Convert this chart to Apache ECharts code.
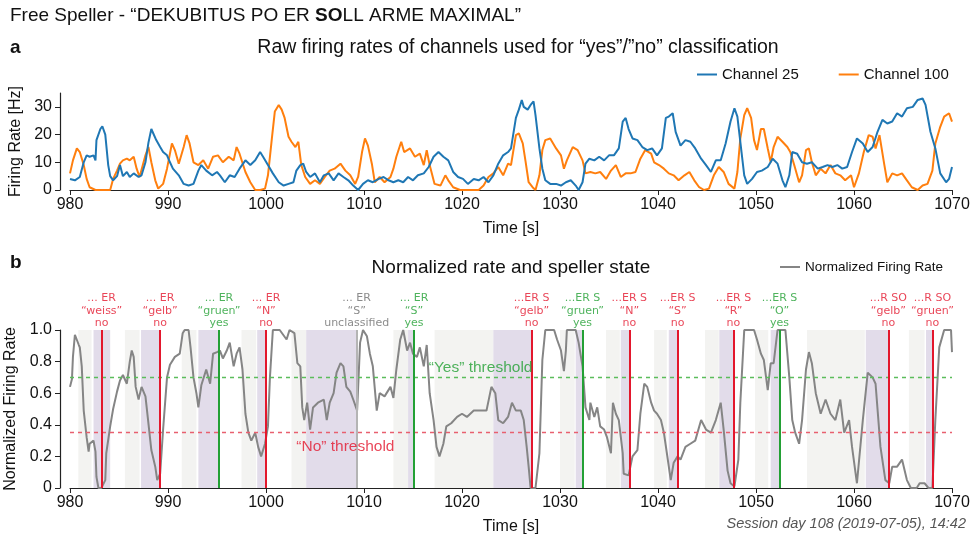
<!DOCTYPE html>
<html>
<head>
<meta charset="utf-8">
<title>Free Speller</title>
<script src="https://cdn.jsdelivr.net/npm/echarts@6/dist/echarts.min.js"></script>
<style>
  html, body { margin: 0; padding: 0; background: #fff; }
  #chart { width: 971px; height: 536px; }
</style>
</head>
<body>
<div id="chart"></div>
<script>
// raw firing rates, channel 25 (Hz)
const ch25Time = [
  980.0, 980.5, 981.0, 981.4, 981.7, 982.0, 982.4, 982.6, 982.7, 983.1,
  983.3, 983.6, 983.9, 984.1, 984.4, 984.8, 985.1, 985.4, 985.8, 986.1,
  986.5, 987.0, 987.3, 987.7, 988.0, 988.3, 988.5, 988.8, 989.2, 989.5,
  989.9, 990.2, 990.5, 991.1, 991.6, 992.1, 992.6, 993.1, 993.4, 993.9,
  994.5, 995.0, 995.3, 995.8, 996.3, 996.8, 997.3, 997.9, 998.4, 998.9,
  999.4, 999.7, 1000.2, 1000.7, 1001.3, 1001.8, 1002.3, 1002.8, 1003.1, 1003.5,
  1003.8, 1004.1, 1004.5, 1005.0, 1005.5, 1005.9, 1006.4, 1006.9, 1007.4, 1007.9,
  1008.4, 1008.9, 1009.4, 1009.9, 1010.4, 1010.9, 1011.5, 1012.0, 1012.5, 1013.0,
  1013.5, 1014.0, 1014.5, 1015.0, 1015.5, 1016.1, 1016.6, 1017.1, 1017.6, 1018.1,
  1018.6, 1019.1, 1019.6, 1020.1, 1020.6, 1021.2, 1021.7, 1022.2, 1022.7, 1023.2,
  1023.7, 1024.2, 1024.7, 1025.0, 1025.5, 1025.8, 1026.1, 1026.3, 1026.7, 1027.0,
  1027.3, 1027.5, 1027.9, 1028.2, 1028.5, 1029.0, 1029.6, 1030.1, 1030.6, 1031.1,
  1031.6, 1031.9, 1032.3, 1032.6, 1033.0, 1033.5, 1034.0, 1034.5, 1035.0, 1035.5,
  1036.0, 1036.4, 1036.7, 1037.0, 1037.4, 1037.9, 1038.4, 1038.9, 1039.4, 1039.9,
  1040.4, 1040.8, 1041.1, 1041.5, 1041.8, 1042.3, 1042.8, 1043.3, 1043.8, 1044.4,
  1044.9, 1045.4, 1045.9, 1046.4, 1046.9, 1047.4, 1047.8, 1048.1, 1048.4, 1048.8,
  1049.1, 1049.6, 1050.1, 1050.6, 1051.2, 1051.7, 1052.2, 1052.7, 1053.0, 1053.4,
  1053.7, 1054.2, 1054.7, 1055.2, 1055.7, 1056.3, 1056.8, 1057.3, 1057.8, 1058.3,
  1058.8, 1059.3, 1059.8, 1060.3, 1060.9, 1061.4, 1061.9, 1062.4, 1062.9, 1063.4,
  1063.9, 1064.4, 1064.9, 1065.4, 1066.0, 1066.5, 1067.0, 1067.3, 1067.8, 1068.3,
  1068.8, 1069.4, 1069.7, 1070.0
];
const ch25Rate = [
  4, 3.5, 4.7, 10, 12.5, 12, 12.5, 10.7, 18, 22,
  23, 20, 9, 5, 3.5, 5, 9, 5, 6.5, 4.7,
  6, 4.7, 5.3, 10, 17, 22, 21.5, 18, 15.5, 13.7,
  12.5, 10, 7.7, 5.3, 2.2, 1.6, 2.2, 7, 9, 7,
  5.3, 6.5, 5.3, 2.8, 5.3, 4.7, 7.7, 10.7, 9, 10.7,
  13.7, 12, 9, 6, 2.8, 1.6, 2.2, 2.8, 7, 9,
  9.5, 6.5, 4.7, 6, 2.8, 5.3, 6, 3.5, 6, 4.7,
  3.5, 1.6, 0, 2.2, 3.5, 2.8, 4, 4.7, 3.5, 2.8,
  3.5, 2.8, 4.7, 3.5, 5.3, 6, 8.3, 12, 13.7, 12,
  10.7, 6.5, 4.7, 4, 2.2, 4, 3.5, 4.7, 2.8, 5.3,
  9.5, 12.5, 13.7, 15, 26, 29, 32.5, 30, 29, 30.7,
  32, 27, 15, 7.7, 3.5, 2.2, 2.2, 1.6, 2.8, 3.5,
  1.6, 0, 2.8, 9.5, 11.3, 10.7, 12, 10.7, 12.5, 12.5,
  15, 24.7, 26, 22, 18.6, 18, 15.5, 14.4, 15, 12.5,
  15, 26, 26.5, 27.7, 21, 16, 18, 17.4, 15, 11.3,
  9, 6.5, 10.7, 10.7, 16.8, 24.7, 29.5, 26.5, 17.4, 5.3,
  2.2, 4, 6.5, 7, 8.3, 11.3, 9.5, 3.5, 1, 5.3,
  13.7, 13.1, 10, 9.5, 10, 7.7, 8.3, 9, 8.3, 9,
  7.7, 8.3, 13.7, 18.6, 16.8, 13.7, 15.5, 21, 25.3, 24,
  24.7, 27.7, 26.5, 29.5, 30, 32.5, 33, 30.7, 21, 15,
  6, 2.8, 4, 8.3
];

// raw firing rates, channel 100 (Hz)
const ch100Time = [
  980.0, 980.3, 980.7, 981.0, 981.4, 981.7, 982.0, 982.6, 983.1, 983.6,
  984.1, 984.4, 984.8, 985.1, 985.4, 985.8, 986.1, 986.5, 986.8, 987.1,
  987.7, 988.0, 988.3, 988.7, 989.0, 989.5, 989.9, 990.4, 990.7, 991.1,
  991.6, 991.9, 992.2, 992.6, 993.1, 993.6, 994.1, 994.6, 995.1, 995.6,
  996.2, 996.7, 997.0, 997.3, 997.9, 998.4, 998.9, 999.4, 999.9, 1000.2,
  1000.6, 1000.9, 1001.3, 1001.6, 1001.9, 1002.3, 1002.6, 1003.0, 1003.3, 1003.6,
  1004.0, 1004.5, 1005.0, 1005.5, 1006.0, 1006.5, 1007.0, 1007.6, 1008.1, 1008.6,
  1009.1, 1009.4, 1009.8, 1010.1, 1010.4, 1010.8, 1011.1, 1011.6, 1012.1, 1012.7,
  1013.0, 1013.3, 1013.8, 1014.1, 1014.7, 1015.2, 1015.7, 1016.1, 1016.4, 1016.7,
  1017.2, 1017.8, 1018.3, 1018.6, 1019.1, 1019.8, 1020.5, 1021.2, 1021.7, 1022.2,
  1022.7, 1023.2, 1023.7, 1024.2, 1024.7, 1025.0, 1025.5, 1025.8, 1026.2, 1026.5,
  1026.8, 1027.2, 1027.5, 1027.9, 1028.2, 1028.5, 1029.0, 1029.6, 1030.1, 1030.4,
  1030.7, 1031.3, 1031.8, 1032.3, 1032.6, 1033.1, 1033.6, 1034.1, 1034.7, 1035.2,
  1035.7, 1036.2, 1036.7, 1037.2, 1037.7, 1038.2, 1038.7, 1039.3, 1039.6, 1040.1,
  1040.6, 1041.1, 1041.6, 1042.1, 1042.7, 1043.2, 1043.7, 1044.2, 1044.7, 1045.2,
  1045.7, 1046.2, 1046.7, 1047.2, 1047.8, 1048.1, 1048.4, 1048.8, 1049.1, 1049.5,
  1049.8, 1050.1, 1050.5, 1050.8, 1051.2, 1051.5, 1051.8, 1052.2, 1052.7, 1053.2,
  1053.5, 1053.9, 1054.4, 1054.7, 1055.1, 1055.4, 1055.7, 1056.1, 1056.6, 1057.1,
  1057.6, 1058.1, 1058.6, 1059.1, 1059.7, 1060.0, 1060.5, 1061.0, 1061.5, 1061.9,
  1062.2, 1062.6, 1063.1, 1063.4, 1063.9, 1064.4, 1064.9, 1065.4, 1065.9, 1066.5,
  1067.0, 1067.5, 1068.0, 1068.3, 1068.8, 1069.2, 1069.7, 1070.0
];
const ch100Rate = [
  6, 10.7, 15, 13.7, 9, 4, 1, 0, 0, 0,
  0, 4, 7, 9.5, 10.7, 11.3, 10.7, 12, 7.7, 4.7,
  12.5, 15.5, 10, 3.5, 0.5, 2.2, 7.7, 16.8, 14.4, 9.5,
  15.5, 19.8, 16.8, 10, 9, 10.7, 7.7, 12, 12.5, 10,
  12, 10.7, 15.5, 13.1, 6.5, 2.8, 0, 0, 0.5, 5.3,
  18.6, 28.3, 30.7, 29, 26, 19.2, 17.4, 15.5, 17.4, 9,
  4.7, 2.2, 3.5, 2.2, 4.7, 7, 7.7, 9.5, 7, 5.3,
  2.2, 4.7, 13.7, 18.6, 16, 9.5, 2.8, 4.7, 2.8, 4.7,
  7.7, 12, 17.4, 13.7, 15, 12, 13.1, 9, 14.4, 9,
  2.2, 1.6, 5.3, 3.5, 1, 0, 0, 0, 0, 1.6,
  4.7, 6, 8.3, 5.3, 9.5, 9, 19.8, 20.4, 16.8, 10,
  2.8, 1, 0, 5.3, 14.4, 18, 18.6, 15, 12.5, 7.7,
  10.7, 15.5, 14.4, 10.7, 6, 6.5, 6, 6.5, 4, 7,
  9, 4.7, 6, 6, 6.5, 11.3, 14.4, 13.1, 10, 9,
  7.7, 6, 5.3, 3.5, 5.3, 6.5, 3.5, 1, 0, 0.5,
  5.3, 8.3, 6.5, 2.2, 0.5, 6.5, 18.6, 27, 29.5, 26,
  18, 14.4, 22, 22, 15, 10, 15.5, 19.2, 17.4, 15.5,
  13.7, 9, 2.8, 5.3, 14.4, 15, 10, 5.3, 7.7, 6,
  9, 6, 5.3, 3.5, 5.3, 1, 6, 13.7, 19.8, 19.2,
  15, 19.8, 9, 2.8, 6, 5.3, 6, 3.5, 1, 0,
  1.6, 2.2, 7, 16.8, 22.8, 26.5, 27.7, 24.7
];

// normalized firing rate (0..1)
const normTime = [
  980.0, 980.2, 980.3, 980.5, 980.7, 980.9, 981.0, 981.2, 981.4, 981.7,
  981.9, 982.0, 982.4, 982.6, 982.7, 982.9, 983.2, 983.6, 983.7, 984.1,
  984.4, 984.8, 985.1, 985.4, 985.8, 986.1, 986.3, 986.5, 986.7, 987.0,
  987.3, 987.7, 988.0, 988.3, 988.7, 988.9, 989.2, 989.5, 989.9, 990.2,
  990.7, 991.2, 991.5, 991.7, 992.1, 992.3, 992.6, 992.9, 993.1, 993.4,
  993.9, 994.3, 994.6, 995.0, 995.3, 995.6, 996.0, 996.3, 996.7, 997.0,
  997.3, 997.6, 997.9, 998.2, 998.5, 998.9, 999.2, 999.5, 999.9, 1000.2,
  1000.4, 1000.7, 1001.4, 1002.1, 1002.4, 1002.9, 1003.2, 1003.5, 1003.7, 1003.9,
  1004.2, 1004.5, 1004.8, 1005.3, 1005.9, 1006.2, 1006.5, 1006.9, 1007.2, 1007.6,
  1007.9, 1008.2, 1008.6, 1008.9, 1009.3, 1009.6, 1009.9, 1010.3, 1010.6, 1010.9,
  1011.3, 1011.6, 1012.1, 1012.7, 1013.0, 1013.3, 1013.7, 1014.0, 1014.4, 1014.7,
  1015.0, 1015.4, 1015.7, 1016.1, 1016.4, 1016.7, 1017.1, 1017.4, 1017.7, 1018.1,
  1018.4, 1018.9, 1019.5, 1020.0, 1020.5, 1021.2, 1021.8, 1022.5, 1023.0, 1023.4,
  1023.7, 1024.2, 1024.7, 1025.1, 1025.5, 1026.0, 1026.3, 1026.6, 1026.8, 1027.0,
  1027.5, 1027.9, 1028.2, 1028.5, 1029.4, 1029.7, 1030.1, 1030.4, 1030.6, 1030.7,
  1031.6, 1031.9, 1032.3, 1032.6, 1033.0, 1033.1, 1033.5, 1033.8, 1034.1, 1034.5,
  1034.8, 1035.2, 1035.4, 1035.7, 1036.0, 1036.4, 1036.5, 1037.0, 1037.4, 1037.9,
  1038.2, 1038.6, 1038.9, 1039.3, 1039.6, 1039.9, 1040.3, 1040.6, 1041.0, 1041.3,
  1041.6, 1042.0, 1042.3, 1042.8, 1043.3, 1043.8, 1044.4, 1044.9, 1045.4, 1045.9,
  1046.4, 1046.7, 1047.1, 1047.4, 1047.8, 1048.2, 1048.4, 1048.8, 1049.8, 1050.1,
  1050.5, 1050.8, 1051.2, 1051.5, 1051.8, 1052.2, 1053.0, 1053.4, 1053.7, 1054.0,
  1054.4, 1054.7, 1055.1, 1055.4, 1055.7, 1056.1, 1056.6, 1057.1, 1057.6, 1058.1,
  1058.6, 1059.0, 1059.5, 1059.8, 1060.3, 1060.9, 1061.4, 1061.9, 1062.2, 1062.7,
  1063.2, 1063.6, 1063.9, 1064.4, 1064.9, 1065.4, 1065.8, 1066.4, 1066.7, 1067.2,
  1067.6, 1068.0, 1068.3, 1068.7, 1069.2, 1069.9, 1070.0
];
const normRate = [
  0.64, 0.69, 0.83, 0.97, 0.98, 0.905, 0.89, 0.77, 0.49, 0.32,
  0.23, 0.28, 0.30, 0.23, 0.07, 0, 0, 0.05, 0.22, 0.39,
  0.50, 0.61, 0.68, 0.715, 0.66, 0.80, 0.87, 0.83, 0.64, 0.56,
  0.64, 0.58, 0.41, 0.24, 0.135, 0.05, 0.09, 0.37, 0.70, 0.78,
  0.83, 0.85, 0.98, 1, 1, 0.89, 0.70, 0.60, 0.51, 0.65,
  0.75, 0.66, 0.85, 0.86, 0.87, 0.82, 0.87, 0.92, 0.77, 0.85,
  0.89, 0.75, 0.47, 0.35, 0.30, 0.35, 0.26, 0.20, 0.28, 0.39,
  0.70, 1, 1, 0.94, 1, 0.98, 0.79, 0.77, 0.51, 0.43,
  0.54, 0.37, 0.51, 0.54, 0.56, 0.43, 0.54, 0.60, 0.73, 0.79,
  0.77, 0.64, 0.61, 0.56, 0.49, 0.92, 1, 0.96, 0.85, 0.77,
  0.49, 0.60, 0.58, 0.64, 0.57, 0.75, 0.94, 1, 0.87, 0.92,
  0.85, 0.83, 0.89, 0.77, 0.905, 0.60, 0.43, 0.26, 0.20, 0.28,
  0.39, 0.41, 0.45, 0.47, 0.45, 0.49, 0.49, 0.49, 0.64, 0.60,
  0.43, 0.41, 0.45, 0.54, 0.49, 0.49, 0.43, 0.26, 0.135, 0,
  0, 0.22, 0.81, 1, 1, 0.94, 0.87, 0.74, 0.87, 1,
  1, 0.92, 0.77, 0.51, 0.43, 0.54, 0.45, 0.51, 0.39, 0.37,
  0.32, 0.22, 0.54, 0.47, 0.43, 0.22, 0.09, 0.08, 0.20, 0.24,
  0.47, 0.66, 0.64, 0.54, 0.49, 0.47, 0.43, 0.35, 0.18, 0.05,
  0.16, 0.20, 0.18, 0.26, 0.28, 0.30, 0.43, 0.37, 0.35, 0.43,
  0.54, 0.37, 0.11, 0.03, 0.01, 0.18, 0.54, 1, 1, 0.94,
  0.85, 0.81, 0.62, 0.79, 0.79, 1, 1, 0.70, 0.43, 0.35,
  0.28, 0.43, 0.75, 0.86, 0.79, 0.60, 0.47, 0.56, 0.47, 0.43,
  0.56, 0.35, 0.43, 0.26, 0.03, 0.43, 0.73, 0.70, 0.66, 0.26,
  0.05, 0.03, 0.135, 0.135, 0.18, 0.05, 0, 0, 0.03, 0.03,
  0, 0, 0.43, 0.89, 1, 1, 0.86
];

// speller state: idle (light grey) and answer windows (lilac), in seconds
const idleBands = [
  [980.85, 982.2], [985.6, 987.1], [991.4, 992.9], [997.5, 999.0], [1002.6, 1004.1],
  [1013.0, 1014.5], [1017.2, 1023.2], [1030.0, 1031.5], [1034.7, 1036.1], [1039.6, 1040.9],
  [1044.8, 1046.2], [1049.9, 1051.25], [1055.2, 1061.1], [1065.6, 1067.2]
];
const answerBands = [
  [982.4, 984.1], [987.25, 989.2], [993.1, 995.2], [999.1, 1000.0], [1004.1, 1009.25],
  [1014.5, 1015.1], [1023.2, 1027.1], [1031.6, 1032.3], [1036.2, 1037.07], [1041.1, 1042.0],
  [1046.25, 1047.7], [1051.5, 1052.4], [1061.2, 1063.5], [1067.35, 1068.0]
];

// classification events
const decisionTime = [983.23, 989.2, 995.2, 1000.0, 1009.25, 1015.1, 1027.1, 1032.3, 1037.07, 1042.0, 1047.7, 1052.4, 1063.5, 1068.0];
const decisionPrefix = ['... ER', '... ER', '... ER', '... ER', '... ER', '... ER', '...ER S', '...ER S', '...ER S', '...ER S', '...ER S', '...ER S', '...R SO', '...R SO'];
const decisionWord = ['weiss', 'gelb', 'gruen', 'N', 'S', 'S', 'gelb', 'gruen', 'N', 'S', 'R', 'O', 'gelb', 'gruen'];
const decisionResult = ['no', 'no', 'yes', 'no', 'unclassified', 'yes', 'no', 'yes', 'no', 'no', 'no', 'yes', 'no', 'no'];

const yesThreshold = 0.7;
const noThreshold = 0.35;
const rateTicks = [0, 10, 20, 30];

const font = '"Liberation Sans", Arial, Helvetica, sans-serif';
const annFont = '"DejaVu Sans", sans-serif';
const textColor = { no: '#e3172d', yes: '#23a035', unclassified: '#6e6e6e' };
const stemColor = { no: '#e3172d', yes: '#23a035', unclassified: '#b4b4b4' };

const pairs = (ts, vs) => ts.map((t, i) => [t, vs[i]]);

const chart = echarts.init(document.getElementById('chart'));

const xAxisBase = {
  type: 'value',
  min: 980,
  max: 1070,
  interval: 10,
  axisLine: { onZero: false, lineStyle: { color: '#222', width: 1.2 } },
  axisTick: { length: 5, lineStyle: { color: '#222' } },
  axisLabel: { color: '#111', fontSize: 16, margin: 7, fontFamily: font, formatter: v => String(v) },
  splitLine: { show: false },
  name: 'Time [s]',
  nameLocation: 'middle',
  nameGap: 31,
  nameTextStyle: { color: '#111', fontSize: 16, fontFamily: font }
};

const yAxisBase = {
  type: 'value',
  offset: 10,
  axisLine: { show: true, onZero: false, lineStyle: { color: '#222', width: 1.2 } },
  axisTick: { show: true, length: 5, lineStyle: { color: '#222' } },
  splitLine: { show: false },
  nameLocation: 'middle',
  nameGap: 31,
  nameTextStyle: { color: '#111', fontSize: 16, fontFamily: font }
};

chart.setOption({
  animation: false,
  grid: [
    { left: 70, right: 19, top: 93, height: 97, outerBoundsMode: 'none' },
    { left: 70, right: 19, top: 330, height: 158, outerBoundsMode: 'none' }
  ],
  xAxis: [
    Object.assign({ gridIndex: 0 }, xAxisBase),
    Object.assign({ gridIndex: 1 }, xAxisBase)
  ],
  yAxis: [
    Object.assign({}, yAxisBase, {
      gridIndex: 0,
      min: 0,
      max: 35,
      name: 'Firing Rate [Hz]',
      axisTick: { show: true, length: 5, customValues: rateTicks, lineStyle: { color: '#222' } },
      axisLabel: { color: '#111', fontSize: 16, margin: 8, fontFamily: font, customValues: rateTicks }
    }),
    Object.assign({}, yAxisBase, {
      gridIndex: 1,
      min: 0,
      max: 1,
      interval: 0.2,
      name: 'Normalized Firing Rate',
      axisLabel: {
        color: '#111', fontSize: 16, margin: 8, fontFamily: font,
        formatter: v => (v === 0 ? '0' : v.toFixed(1))
      }
    })
  ],
  legend: [
    {
      data: ['Channel 25', 'Channel 100'],
      left: 697, top: 67, padding: 0,
      icon: 'rect', itemWidth: 20, itemHeight: 2, itemGap: 40,
      selectedMode: false,
      textStyle: { color: '#111', fontSize: 15, fontFamily: font }
    },
    {
      data: ['Normalized Firing Rate'],
      left: 780, top: 260, padding: 0,
      icon: 'rect', itemWidth: 20, itemHeight: 2,
      selectedMode: false,
      textStyle: { color: '#111', fontSize: 13.5, fontFamily: font }
    }
  ],
  graphic: [
    {
      type: 'text', x: 10, y: 16,
      style: {
        text: '{n|Free Speller - “DEKUBITUS PO ER }{b|SO}{n|LL ARME MAXIMAL”}',
        fill: '#111', fontSize: 19, fontFamily: font,
        verticalAlign: 'middle', textVerticalAlign: 'middle',
        rich: {
          n: { fontSize: 19, fontFamily: font, fontWeight: 'normal', fill: '#111', color: '#111' },
          b: { fontSize: 19, fontFamily: font, fontWeight: 'bold', fill: '#111', color: '#111' }
        }
      }
    },
    {
      type: 'text', x: 10, y: 48,
      style: { text: 'a', fill: '#111', font: 'bold 19px ' + font, verticalAlign: 'middle', textVerticalAlign: 'middle' }
    },
    {
      type: 'text', x: 518, y: 48,
      style: {
        text: 'Raw firing rates of channels used for “yes”/”no” classification',
        fill: '#111', font: '19.5px ' + font,
        align: 'center', textAlign: 'center', verticalAlign: 'middle', textVerticalAlign: 'middle'
      }
    },
    {
      type: 'text', x: 10, y: 263,
      style: { text: 'b', fill: '#111', font: 'bold 19px ' + font, verticalAlign: 'middle', textVerticalAlign: 'middle' }
    },
    {
      type: 'text', x: 511, y: 268,
      style: {
        text: 'Normalized rate and speller state',
        fill: '#111', font: '19px ' + font,
        align: 'center', textAlign: 'center', verticalAlign: 'middle', textVerticalAlign: 'middle'
      }
    },
    {
      type: 'text', x: 966, y: 524,
      style: {
        text: 'Session day 108 (2019-07-05), 14:42',
        fill: '#555', font: 'italic 14.5px ' + font,
        align: 'right', textAlign: 'right', verticalAlign: 'middle', textVerticalAlign: 'middle'
      }
    }
  ],
  series: [
    {
      name: 'Channel 25',
      type: 'line',
      xAxisIndex: 0, yAxisIndex: 0,
      data: pairs(ch25Time, ch25Rate),
      showSymbol: false,
      color: '#1f77b4',
      lineStyle: { color: '#1f77b4', width: 2 },
      z: 3
    },
    {
      name: 'Channel 100',
      type: 'line',
      xAxisIndex: 0, yAxisIndex: 0,
      data: pairs(ch100Time, ch100Rate),
      showSymbol: false,
      color: '#ff7f0e',
      lineStyle: { color: '#ff7f0e', width: 2 },
      z: 2
    },
    {
      name: 'state',
      type: 'line',
      xAxisIndex: 1, yAxisIndex: 1,
      data: [],
      silent: true,
      z: 1,
      markArea: {
        silent: true,
        data: idleBands.map(b => [{ xAxis: b[0], itemStyle: { color: '#f3f3f1' } }, { xAxis: b[1] }])
          .concat(answerBands.map(b => [{ xAxis: b[0], itemStyle: { color: '#e2dcea' } }, { xAxis: b[1] }]))
      }
    },
    {
      name: 'thresholds',
      type: 'line',
      xAxisIndex: 1, yAxisIndex: 1,
      data: [],
      silent: true,
      z: 2,
      markLine: {
        silent: true,
        symbol: 'none',
        label: { show: false },
        lineStyle: { type: [4, 4], width: 1.3 },
        data: [
          { yAxis: yesThreshold, lineStyle: { color: '#5bbd5b' } },
          { yAxis: noThreshold, lineStyle: { color: '#e8606f' } }
        ]
      }
    },
    {
      name: 'Normalized Firing Rate',
      type: 'line',
      xAxisIndex: 1, yAxisIndex: 1,
      data: pairs(normTime, normRate),
      showSymbol: false,
      clip: false,
      color: '#858585',
      lineStyle: { color: '#858585', width: 2 },
      z: 3
    },
    {
      name: 'decisions',
      type: 'line',
      xAxisIndex: 1, yAxisIndex: 1,
      data: [],
      silent: true,
      z: 4,
      markLine: {
        silent: true,
        symbol: 'none',
        label: { show: false },
        lineStyle: { type: 'solid', width: 2 },
        data: decisionTime.map((t, i) => ({ xAxis: t, lineStyle: { color: stemColor[decisionResult[i]] } }))
      }
    },
    {
      name: 'annotations',
      type: 'scatter',
      xAxisIndex: 1, yAxisIndex: 1,
      silent: true,
      symbolSize: 1,
      itemStyle: { color: 'rgba(0,0,0,0)' },
      z: 5,
      label: {
        show: true,
        position: 'top',
        distance: 0,
        fontFamily: annFont,
        fontSize: 11,
        lineHeight: 12.5,
        align: 'center',
        formatter: p => decisionPrefix[p.dataIndex] + '\n“' + decisionWord[p.dataIndex] + '”\n' + decisionResult[p.dataIndex]
      },
      data: decisionTime.map((t, i) => ({
        value: [t, 1],
        label: { color: textColor[decisionResult[i]] }
      }))
    },
    {
      name: 'threshold labels',
      type: 'scatter',
      xAxisIndex: 1, yAxisIndex: 1,
      silent: true,
      symbolSize: 1,
      itemStyle: { color: 'rgba(0,0,0,0)' },
      z: 5,
      label: { show: true, fontFamily: font, fontSize: 15.5 },
      data: [
        { value: [1021.9, yesThreshold], label: { formatter: '“Yes” threshold', position: 'top', distance: 1, color: '#23a035' } },
        { value: [1008.1, noThreshold], label: { formatter: '“No” threshold', position: 'bottom', distance: 6, color: '#e3172d' } }
      ]
    }
  ]
});
</script>
</body>
</html>
